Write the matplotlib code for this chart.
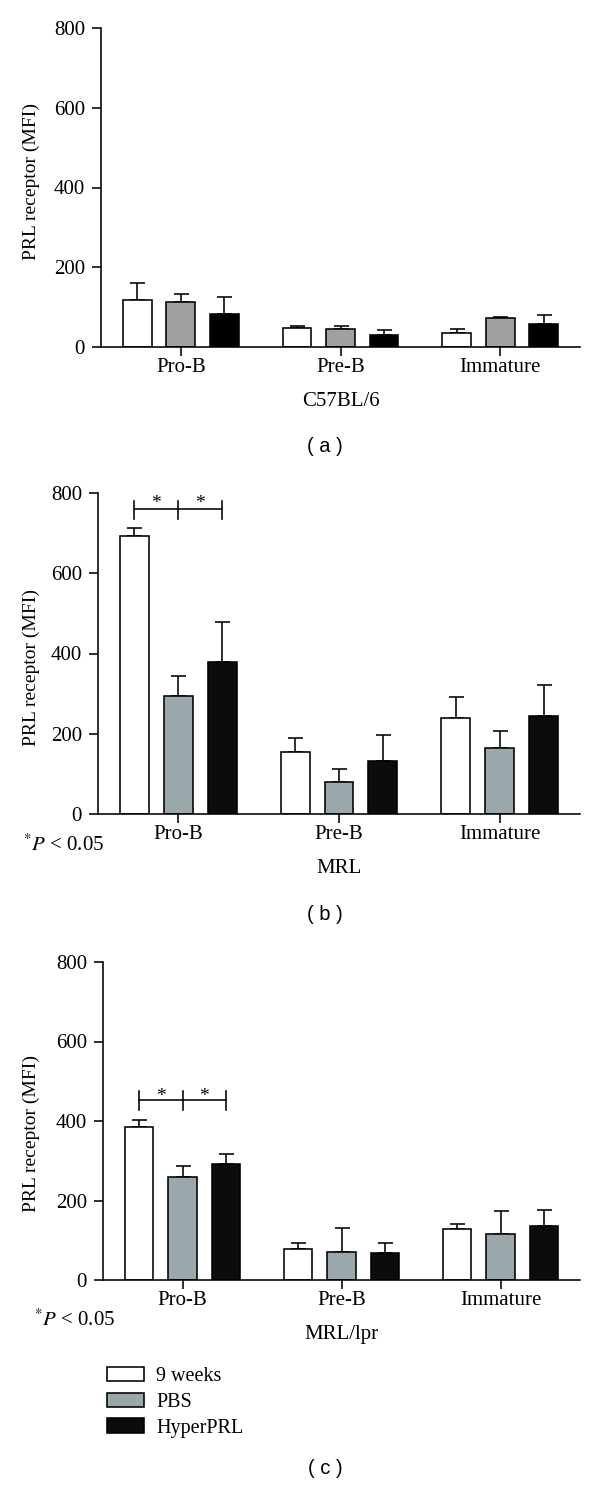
import matplotlib
matplotlib.use("Agg")
import matplotlib.pyplot as plt
import numpy as np

plt.rcParams['font.family'] = ['Liberation Serif', 'DejaVu Serif']
plt.rcParams['mathtext.fontset'] = 'stix'

groups = ['Pro-B', 'Pre-B', 'Immature']
series_names = ['9 weeks', 'PBS', 'HyperPRL']
y_ticks = [0, 200, 400, 600, 800]

# C57BL/6
c57_wk9 = [119, 47, 36]
c57_wk9_err = [41, 6, 9]
c57_pbs = [114, 46, 72]
c57_pbs_err = [18, 7, 4]
c57_hyper = [83, 29, 58]
c57_hyper_err = [43, 14, 21]

# MRL
mrl_wk9 = [693, 154, 240]
mrl_wk9_err = [20, 36, 52]
mrl_pbs = [295, 79, 164]
mrl_pbs_err = [49, 33, 43]
mrl_hyper = [378, 131, 243]
mrl_hyper_err = [100, 67, 79]

# MRL/lpr
lpr_wk9 = [384, 77, 129]
lpr_wk9_err = [19, 15, 11]
lpr_pbs = [260, 71, 115]
lpr_pbs_err = [28, 60, 58]
lpr_hyper = [293, 67, 137]
lpr_hyper_err = [23, 25, 39]

# Pro-B significance bracket: line level, tick bottom, tick top, star level
mrl_bracket = [759, 736, 781, 774]
lpr_bracket = [453, 428, 475, 462]

W, H = 600, 1488
width = 0.18
offset = 0.273
lw = 1.15
fs = 15


def px(x, y):
    return x / W, 1 - y / H


def bar_panel(ax, values, errors, colors, strain):
    x = np.arange(len(groups))
    bars = []
    for i in range(3):
        xi = x + (i - 1) * offset
        b = ax.bar(xi, values[i], width, color=colors[i], edgecolor='black',
                   linewidth=lw, zorder=2)
        ax.errorbar(xi, values[i], yerr=[np.zeros(len(xi)), errors[i]], fmt='none',
                    ecolor='black', elinewidth=lw, capsize=5.4, capthick=lw, zorder=1)
        bars.append(b)
    ax.set_xlim(-0.5, 2.5)
    ax.set_ylim(0, 800)
    ax.set_yticks(y_ticks)
    ax.set_xticks(x)
    ax.set_xticklabels(groups)
    ax.spines['top'].set_visible(False)
    ax.spines['right'].set_visible(False)
    for s in ['left', 'bottom']:
        ax.spines[s].set_linewidth(lw)
    ax.tick_params(axis='both', direction='out', length=6.5, width=lw, labelsize=fs)
    ax.tick_params(axis='x', pad=1.5)
    ax.tick_params(axis='y', pad=5)
    ax.annotate(strain, xy=(0.5, 0), xycoords='axes fraction', xytext=(0, -39),
                textcoords='offset points', ha='center', va='center', fontsize=fs)
    return bars


def bracket(ax, levels):
    line, lo, hi, star = levels
    xs = [-offset, 0, offset]
    ax.plot([xs[0], xs[2]], [line, line], color='black', lw=lw, clip_on=False)
    for xx in xs:
        ax.plot([xx, xx], [lo, hi], color='black', lw=lw, clip_on=False)
    for xx in [-offset / 2, offset / 2]:
        ax.text(xx, star, '*', ha='center', va='center', fontsize=14)


fig = plt.figure(figsize=(6, 14.88), dpi=100)

ax_a = fig.add_axes([101 / W, 1 - 347 / H, 479 / W, 319 / H])
ax_b = fig.add_axes([98 / W, 1 - 814 / H, 482 / W, 321 / H])
ax_c = fig.add_axes([103 / W, 1 - 1280 / H, 477 / W, 318 / H])

gray_a = ['white', '#a0a0a0', '#000000']
gray_bc = ['white', '#9aa8ab', '#0b0d0b']

bar_panel(ax_a, [c57_wk9, c57_pbs, c57_hyper], [c57_wk9_err, c57_pbs_err, c57_hyper_err],
          gray_a, 'C57BL/6')
bar_panel(ax_b, [mrl_wk9, mrl_pbs, mrl_hyper], [mrl_wk9_err, mrl_pbs_err, mrl_hyper_err],
          gray_bc, 'MRL')
bars_c = bar_panel(ax_c, [lpr_wk9, lpr_pbs, lpr_hyper], [lpr_wk9_err, lpr_pbs_err, lpr_hyper_err],
                   gray_bc, 'MRL/lpr')

bracket(ax_b, mrl_bracket)
bracket(ax_c, lpr_bracket)

# y labels
for ycen in [182, 667, 1134]:
    fig.text(*px(31, ycen), 'PRL receptor (MFI)', rotation=90, ha='center', va='center',
             fontsize=14)

# p value notes
fig.text(*px(23, 845), r'$^{*}P$ < 0.05', ha='left', va='center', fontsize=fs)
fig.text(*px(34, 1320), r'$^{*}P$ < 0.05', ha='left', va='center', fontsize=fs)

# panel letters
for lab, ycen in [('( a )', 447), ('( b )', 915), ('( c )', 1468)]:
    fig.text(*px(325, ycen), lab, ha='center', va='center', fontsize=14.5,
             family='Liberation Sans')

fig.legend(bars_c, series_names, loc='upper left', bbox_to_anchor=px(107, 1367),
           frameon=False, fontsize=14.5, handlelength=1.84, handleheight=0.7,
           handletextpad=0.6, labelspacing=0.33, borderpad=0, borderaxespad=0)

fig.savefig('out.png', dpi=100)
